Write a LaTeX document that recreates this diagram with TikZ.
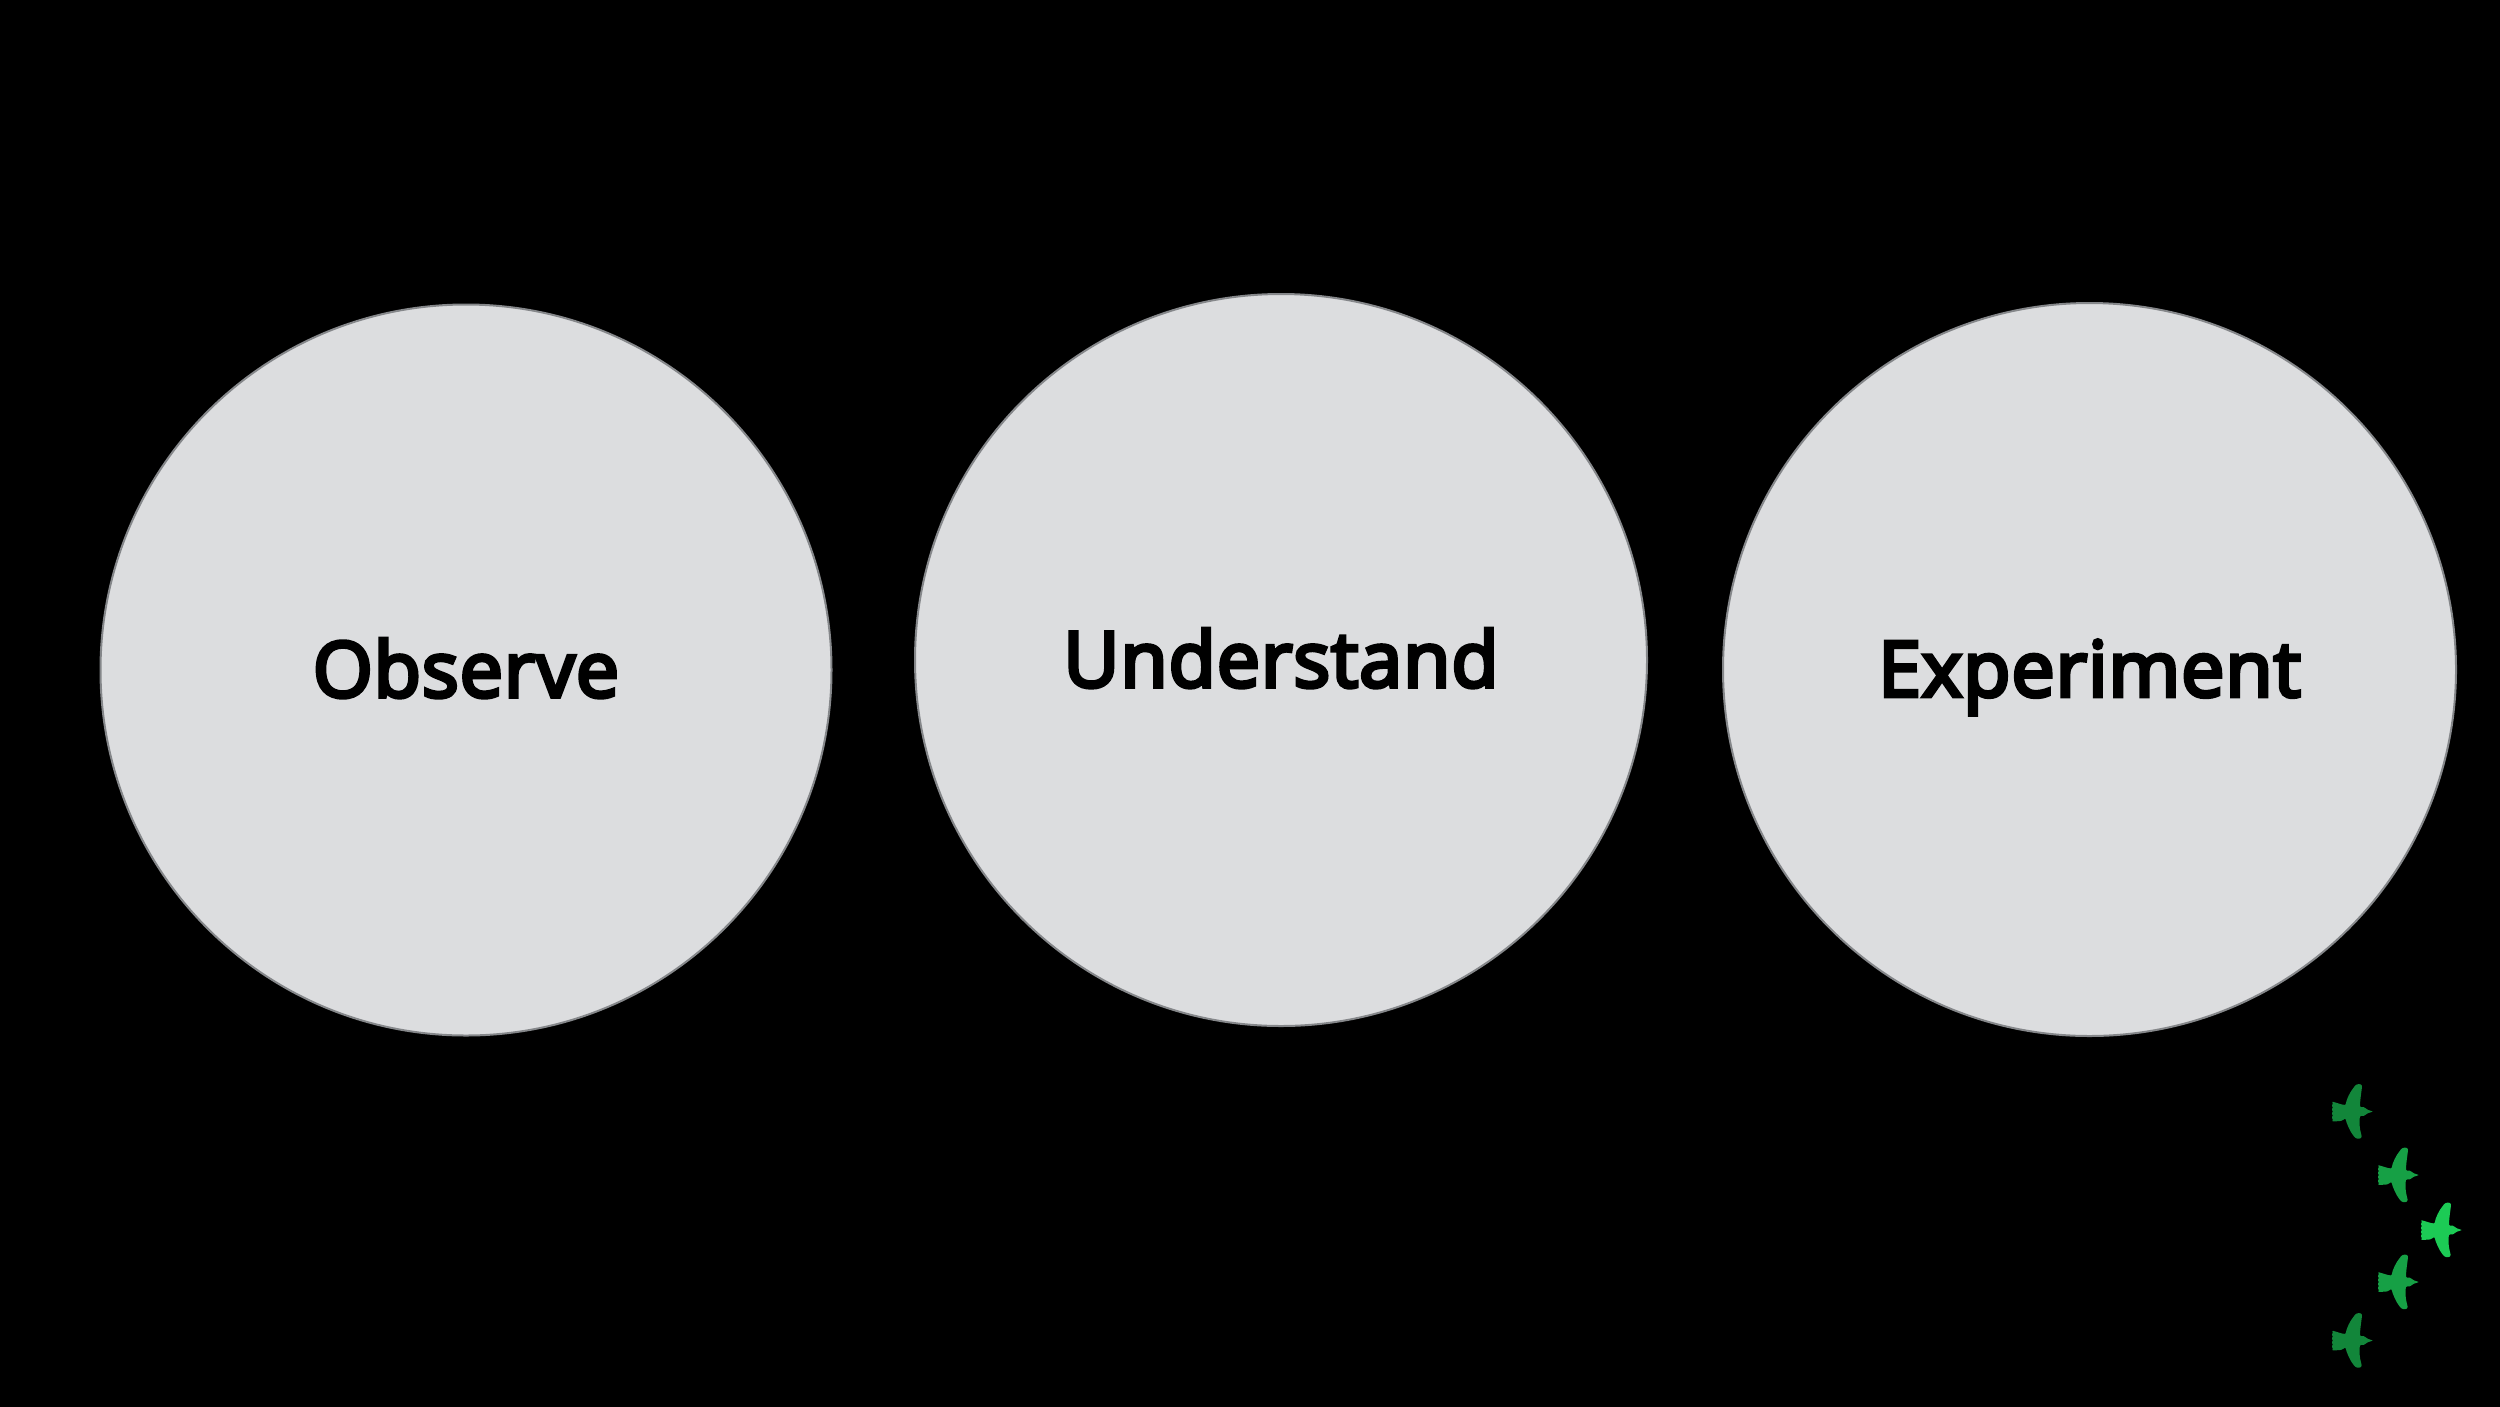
\documentclass[tikz,border=0pt]{standalone}
\usepackage{fontspec}
\setmainfont{Open Sans}
\newfontfamily\semibold[FakeBold=5,LetterSpace=1.3]{Open Sans}
\definecolor{bgblack}{HTML}{000000}
\definecolor{discfill}{HTML}{DCDDDF}
\definecolor{discline}{HTML}{85878A}
\definecolor{birdbright}{HTML}{1CCB55}
\definecolor{birdmid}{HTML}{16A045}
\definecolor{birddark}{HTML}{12863A}
\tikzset{
  disc/.style={circle,fill=discfill,draw=discline,line width=2pt,inner sep=0pt,minimum size=#1,
    font=\fontsize{77}{77}\selectfont\semibold,text=black,text height=54pt,text depth=0pt},
  bird/.pic={
    \fill[pic actions,rounded corners=0.8pt]
      (21,0) -- (15,-2) .. controls (13,-4.5) and (11,-4.5) .. (8,-4.5)
      .. controls (8,-12) and (9.5,-20) .. (10,-25)
      .. controls (9.5,-28) and (4.5,-28) .. (2.5,-25)
      .. controls (-2.5,-19) and (-5.5,-12) .. (-6.5,-6.5)
      -- (-10,-7) -- (-20,-10) -- (-19,-7.5) -- (-20.5,-6) -- (-19,-4) -- (-20.5,-2) -- (-19,0)
      -- (-20.5,2) -- (-19,4) -- (-20.5,6) -- (-19,8) -- (-20,10)
      -- (-11,9.5) -- (-6.5,7)
      .. controls (-5.5,12) and (-1.5,21) .. (2.5,25.5)
      .. controls (5,28) and (10,27.5) .. (9.5,24)
      .. controls (7.5,17) and (7,10) .. (8,4.5)
      .. controls (11,4.5) and (13,4.5) .. (15,2) -- cycle;
  }
}
\begin{document}
\begin{tikzpicture}[x=1pt,y=-1pt]
\useasboundingbox (0,0) rectangle (2500,1406);
\fill[bgblack] (-5,-5) rectangle (2505,1411);
\node[disc=731pt] (observe) at (466,670) {Observe};
\node[disc=732pt] (understand) at (1281,660) {Understand};
\node[disc=733pt] (experiment) at (2089.5,669.5) {Experiment};
\pic[fill=birddark] (b1) at (2352,1111.5) {bird};
\pic[fill=birdmid] (b2) at (2398,1175) {bird};
\pic[fill=birdbright] (b3) at (2441,1230) {bird};
\pic[fill=birdmid] (b4) at (2398,1282) {bird};
\pic[fill=birddark] (b5) at (2352,1340.5) {bird};
\end{tikzpicture}
\end{document}
